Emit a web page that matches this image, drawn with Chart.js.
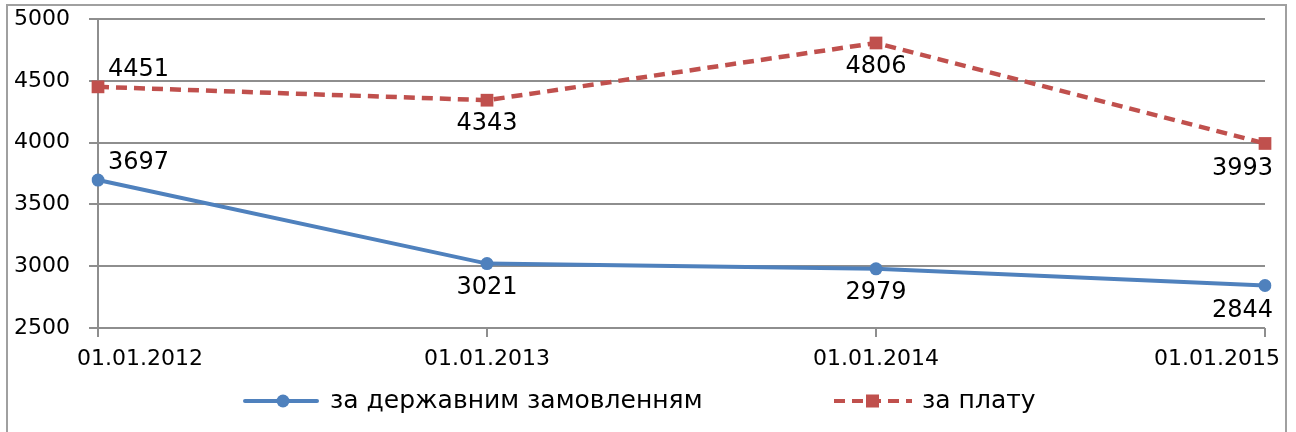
<!DOCTYPE html>
<html>
<head>
<meta charset="utf-8">
<script src="https://cdn.jsdelivr.net/npm/chart.js@4"></script>
<style>
  html, body { margin: 0; padding: 0; background: #fff; }
  #chart { display: block; }
</style>
</head>
<body>
<canvas id="chart" width="1296" height="432"></canvas>
<script>
const dates = ['01.01.2012', '01.01.2013', '01.01.2014', '01.01.2015'];
const stateOrder = [3697, 3021, 2979, 2844];
const paid = [4451, 4343, 4806, 3993];
const seriesNames = ['за державним замовленням', 'за плату'];
const yTicks = [2500, 3000, 3500, 4000, 4500, 5000];

const blue = '#4f81bd';
const red = '#c0504d';
const gridColor = '#8e8e8e';
const textFont = '"DejaVu Sans", sans-serif';

// where each value label sits relative to its point
const labelPlace = ['aboveRight', 'below', 'below', 'belowLeft'];

const whiteBack = {
    id: 'whiteBack',
    beforeDraw(chart) {
        const ctx = chart.ctx;
        ctx.save();
        ctx.fillStyle = '#fff';
        ctx.fillRect(0, 0, chart.width, chart.height);
        ctx.strokeStyle = '#a0a0a0';
        ctx.lineWidth = 2;
        ctx.strokeRect(7, 5, 1279, 440);
        ctx.restore();
    }
};

const xLabels = {
    id: 'xLabels',
    afterDraw(chart) {
        const ctx = chart.ctx;
        const xs = chart.scales.x;
        ctx.save();
        ctx.font = '22px ' + textFont;
        ctx.fillStyle = '#000';
        ctx.textBaseline = 'middle';
        xs.ticks.forEach((t, i) => {
            const px = xs.getPixelForTick(i);
            if (i == 0) {
                ctx.textAlign = 'left';
                ctx.fillText(dates[i], px - 21, 359);
            } else if (i == xs.ticks.length - 1) {
                ctx.textAlign = 'right';
                ctx.fillText(dates[i], px + 15, 359);
            } else {
                ctx.textAlign = 'center';
                ctx.fillText(dates[i], px, 359);
            }
        });
        ctx.restore();
    }
};

const valueLabels = {
    id: 'valueLabels',
    afterDatasetsDraw(chart) {
        const ctx = chart.ctx;
        ctx.save();
        ctx.font = '24px ' + textFont;
        ctx.fillStyle = '#000';
        ctx.textBaseline = 'middle';
        chart.data.datasets.forEach((ds, di) => {
            const meta = chart.getDatasetMeta(di);
            meta.data.forEach((pt, i) => {
                const txt = String(ds.data[i]);
                const place = labelPlace[i];
                if (place == 'aboveRight') {
                    ctx.textAlign = 'left';
                    ctx.fillText(txt, pt.x + 10, pt.y - 17);
                } else if (place == 'belowLeft') {
                    ctx.textAlign = 'right';
                    ctx.fillText(txt, pt.x + 8, pt.y + 25);
                } else {
                    ctx.textAlign = 'center';
                    ctx.fillText(txt, pt.x, pt.y + 24);
                }
            });
        });
        ctx.restore();
    }
};

const legendBox = {
    id: 'legendBox',
    afterDraw(chart) {
        const ctx = chart.ctx;
        const y = 401;
        ctx.save();
        // blue series
        ctx.strokeStyle = blue;
        ctx.lineWidth = 4;
        ctx.lineCap = 'round';
        ctx.beginPath();
        ctx.moveTo(245, y);
        ctx.lineTo(317, y);
        ctx.stroke();
        ctx.fillStyle = blue;
        ctx.beginPath();
        ctx.arc(283, y, 6.5, 0, Math.PI * 2);
        ctx.fill();
        // red series
        ctx.strokeStyle = red;
        ctx.lineCap = 'butt';
        ctx.setLineDash([11, 7]);
        ctx.beginPath();
        ctx.moveTo(834, y);
        ctx.lineTo(912, y);
        ctx.stroke();
        ctx.setLineDash([]);
        ctx.fillStyle = red;
        ctx.fillRect(866, y - 6.5, 13, 13);
        ctx.font = '25px ' + textFont;
        ctx.fillStyle = '#000';
        ctx.textAlign = 'left';
        ctx.textBaseline = 'middle';
        ctx.fillText(seriesNames[0], 330, y);
        ctx.fillText(seriesNames[1], 922, y);
        ctx.restore();
    }
};

new Chart(document.getElementById('chart'), {
    type: 'line',
    data: {
        labels: dates,
        datasets: [{
            label: seriesNames[0],
            data: stateOrder,
            borderColor: blue,
            backgroundColor: blue,
            borderWidth: 4,
            pointStyle: 'circle',
            pointRadius: 6.5,
            pointBorderWidth: 0,
            tension: 0
        }, {
            label: seriesNames[1],
            data: paid,
            borderColor: red,
            backgroundColor: red,
            borderWidth: 4.5,
            borderDash: [11, 7],
            pointStyle: 'rect',
            pointRadius: 9,
            pointBorderWidth: 0,
            tension: 0
        }]
    },
    options: {
        responsive: false,
        animation: false,
        layout: { autoPadding: false, padding: { left: 0, top: 19, right: 31, bottom: 0 } },
        plugins: {
            legend: { display: false },
            tooltip: { enabled: false }
        },
        scales: {
            x: {
                offset: false,
                grid: { display: true, drawOnChartArea: false, color: gridColor, lineWidth: 2, tickLength: 9 },
                border: { display: false },
                ticks: { display: false },
                afterFit(scale) { scale.height = 104; }
            },
            y: {
                min: yTicks[0],
                max: yTicks[yTicks.length - 1],
                afterBuildTicks(scale) { scale.ticks = yTicks.map(v => ({ value: v })); },
                grid: { color: gridColor, lineWidth: 2, tickLength: 9 },
                border: { display: true, color: gridColor, width: 2 },
                ticks: {
                    color: '#000',
                    padding: 19,
                    font: { family: textFont, size: 22 },
                    callback: (v) => String(v)
                },
                afterFit(scale) {
                    scale.width = 98;
                    // tick padding otherwise pushes the plot top down
                    scale.paddingTop = 0;
                    scale.paddingBottom = 0;
                }
            }
        }
    },
    plugins: [whiteBack, xLabels, valueLabels, legendBox]
});
</script>
</body>
</html>
